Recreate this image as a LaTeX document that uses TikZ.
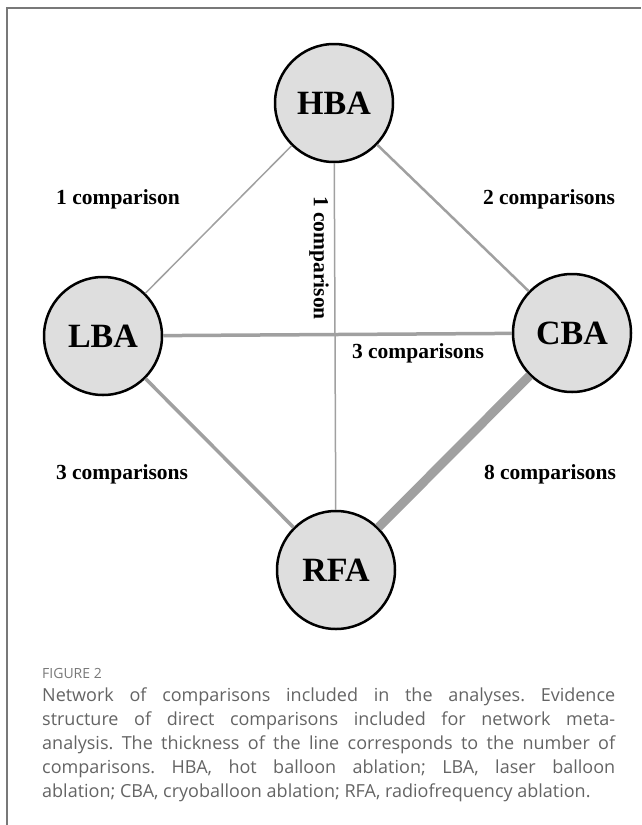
\documentclass[tikz,border=0pt]{standalone}
\usepackage{fontspec}
\setmainfont{Liberation Serif}
\newfontfamily\capfont{Open Sans}
\definecolor{ballgray}{RGB}{222,222,222}
\definecolor{edgegray}{RGB}{160,160,160}
\definecolor{capgray}{RGB}{100,100,100}
\definecolor{framegray}{RGB}{120,120,120}
\tikzset{
  abl/.style={circle, draw=black, line width=2.5pt, fill=ballgray, minimum size=118pt, inner sep=0pt, font=\fontsize{34}{34}\selectfont\bfseries},
  cmp/.style={font=\fontsize{21.5}{21.5}\selectfont\bfseries, inner sep=0pt},
  link/.style={draw=edgegray}
}

\begin{document}
\begin{tikzpicture}[x=1pt,y=-1pt]
\useasboundingbox (0,0) rectangle (641,825);
\draw[framegray, line width=1.2pt] (7,825) -- (7,8) -- (641,8);

\node[abl] (hba) at (334,103) {HBA};
\node[abl] (lba) at (103,336) {LBA};
\node[abl] (cba) at (572,333) {CBA};
\node[abl] (rfa) at (336,570) {RFA};

\draw[link, line width=1.5pt] (hba) -- (lba);
\draw[link, line width=1.5pt] (hba) -- (rfa);
\draw[link, line width=2.5pt] (hba) -- (cba);
\draw[link, line width=3.5pt] (lba) -- (cba);
\draw[link, line width=3.5pt] (lba) -- (rfa);
\draw[link, line width=9pt] (cba) -- (rfa);

\node[cmp] (hl) at (118,199) {1 comparison};
\node[cmp] (hc) at (549,199) {2 comparisons};
\node[cmp, rotate=-90] (hr) at (319,258) {1 comparison};
\node[cmp] (lc) at (418,353) {3 comparisons};
\node[cmp] (lr) at (122,474) {3 comparisons};
\node[cmp] (cr) at (550,474) {8 comparisons};

\node[anchor=west, inner sep=0pt, font=\capfont\fontsize{14}{14}\selectfont, text=framegray] (fig) at (42,673) {FIGURE 2};
\node[anchor=north west, inner sep=0pt, text width=573pt, align=justify, text=capgray,
  font=\capfont\fontsize{18}{24}\selectfont\frenchspacing] (cap) at (42,688)
  {Network of comparisons included in the analyses. Evidence\linebreak
   structure of direct comparisons included for network meta-\linebreak
   analysis. The thickness of the line corresponds to the number of\linebreak
   comparisons. HBA, hot balloon ablation; LBA, laser balloon\linebreak
   ablation; CBA, cryoballoon ablation; RFA, radiofrequency ablation.};
\end{tikzpicture}
\end{document}
